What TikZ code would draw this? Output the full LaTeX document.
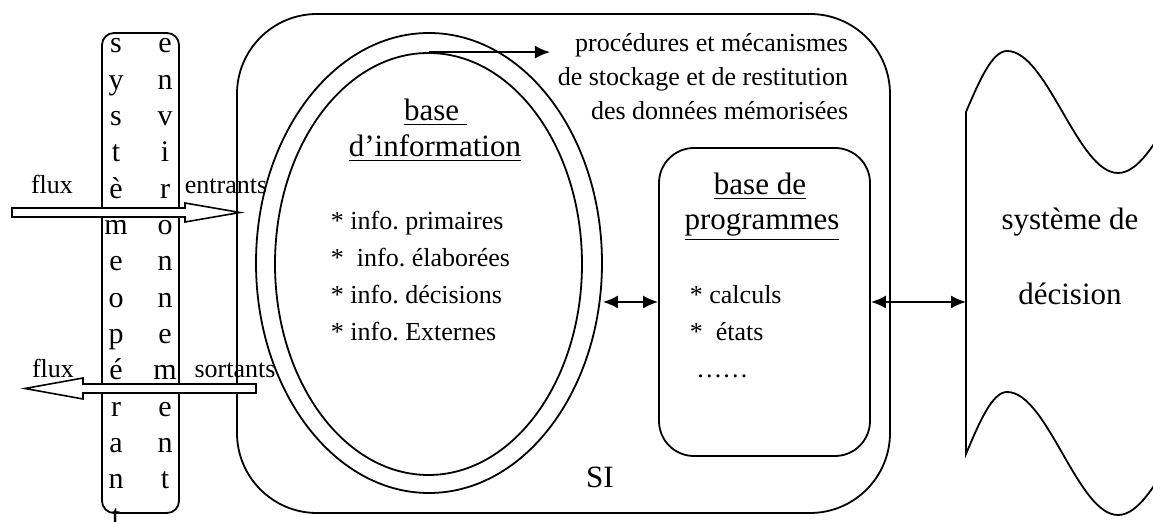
\documentclass[tikz,border=0pt]{standalone}
\usepackage{fontspec}
\setmainfont{Liberation Serif}
\usepackage{tikz}
\usetikzlibrary{arrows.meta}
\usetikzlibrary{shapes.geometric}
\usetikzlibrary{calc}
\frenchspacing

\begin{document}
\begin{tikzpicture}[x=0.5pt,y=-0.5pt,line width=0.9pt,>={Latex[length=7.5pt,width=6.5pt]}]
	\tikzstyle{petit}=[font=\fontsize{13}{18.5}\selectfont, inner sep=0pt]
	\tikzstyle{grand}=[font=\fontsize{15.5}{18}\selectfont, inner sep=0pt]
	\tikzstyle{lettre}=[font=\fontsize{15}{18}\selectfont, anchor=base, inner sep=0pt]
	\tikzstyle{bloc}=[draw, fill=white, line width=0.8pt]
	\path[use as bounding box, clip] (0,0) rectangle (1153,522);
		\node[draw, rounded corners=40pt, minimum width=326.5pt, minimum height=249.5pt] (SI) at (563.5,263.5) {};
		\node[draw, ellipse, inner sep=0pt, minimum width=173pt, minimum height=230pt] (ext) at (429,263) {};
		\node[draw, ellipse, inner sep=0pt, minimum width=153.5pt, minimum height=211pt] (int) at (428.5,264) {};
		\node[draw, rounded corners=17.5pt, minimum width=105.5pt, minimum height=154pt] (prog) at (764.5,302) {};
		\node[draw, rounded corners=6pt, minimum width=38.5pt, minimum height=240pt] (env) at (140.5,273) {};
		\node[grand, anchor=base] (ti1) at (435.5,121) {\underline{base~}};
		\node[grand, anchor=base] (ti2) at (435,157) {\underline{d’information}};
		\node[petit, anchor=base west, align=left] (infos) at (330,341) {* info. primaires\\*~ info. élaborées\\* info. décisions\\* info. Externes};
		\node[grand, anchor=base] (pr1) at (760,195) {\underline{base de}};
		\node[grand, anchor=base] (pr2) at (762,230) {\underline{programmes}};
		\node[petit, anchor=base west, align=left] (liste) at (689,378) {* calculs\\*~ états\\~……};
		\node[petit, anchor=base east, align=right, font=\fontsize{13}{17}\selectfont] (stock) at (849,120) {procédures et mécanismes\\de stockage et de restitution\\des données mémorisées};
		\node[grand, anchor=base, align=center, font=\fontsize{15.5}{37.5}\selectfont] (deci) at (1070,305) {système de\\décision};
		\node[grand, anchor=base] (lsi) at (600,488) {SI};
		\foreach \l [count=\i from 0] in {s,y,s,t,è,m,e,o,p,é,r,a,n,t}
			\node[lettre] (g\i) at (116,{53+36.33*\i}) {\l};
		\foreach \l [count=\i from 0] in {e,n,v,i,r,o,n,n,e,m,e,n,t}
			\node[lettre] (d\i) at (165,{53+36.33*\i}) {\l};
		\draw[bloc] (12,208) -- (185,208) -- (185,203) -- (240,212.5) -- (185,222) -- (185,217) -- (12,217) -- cycle;
		\draw[bloc] (256,384) -- (83,384) -- (83,378) -- (25,388.5) -- (83,399) -- (83,393) -- (256,393) -- cycle;
		\node[petit, anchor=base] (fe) at (52,194) {flux};
		\node[petit, anchor=base] (en) at (226,194) {entrants};
		\node[petit, anchor=base] (fs) at (53,378) {flux};
		\node[petit, anchor=base] (so) at (235,378) {sortants};
		\coordinate (dec) at (966,302);
		\draw (966,112) sin (1007,51) cos (1062.5,112) sin (1118,173) cos (1173.5,112);
		\draw (966,112) -- (966,454) sin (1007,392) cos (1062.5,453.5) sin (1118,515) cos (1173.5,453.5);
		\path[<->]
		(ext.east |- prog.west) edge (prog.west)
		(prog.east) edge (dec);
		\draw[->, shorten >=3.5pt] (int.north) -- (int.north -| stock.west);
\end{tikzpicture}
\end{document}
